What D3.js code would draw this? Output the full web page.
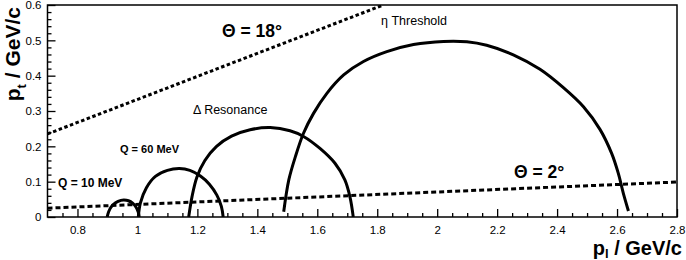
<!DOCTYPE html>
<html><head><meta charset="utf-8">
<script src="https://cdn.jsdelivr.net/npm/d3@7"></script>
<style>
body{margin:0;background:#fff}
svg{display:block}
text{font-family:"Liberation Sans",Arial,Helvetica,sans-serif;fill:#000}
</style>
</head><body>
<svg id="chart" width="686" height="260"></svg>
<script>
// ---- data ----
const xDomain = [0.7, 2.8];
const yDomain = [0, 0.6];
const xTickValues = [0.8, 1.0, 1.2, 1.4, 1.6, 1.8, 2.0, 2.2, 2.4, 2.6, 2.8];
const xTickLabels = ["0.8", "1", "1.2", "1.4", "1.6", "1.8", "2", "2.2", "2.4", "2.6", "2.8"];
const yTickValues = [0, 0.1, 0.2, 0.3, 0.4, 0.5, 0.6];
const yTickLabels = ["0", "0.1", "0.2", "0.3", "0.4", "0.5", "0.6"];

// curves: [p_l, p_t] in GeV/c
const q10MeV = [[0.899,0],[0.904,0.015],[0.912,0.028],[0.927,0.040],[0.945,0.047],[0.955,0.048],[0.970,0.046],[0.984,0.039],[0.996,0.027],[1.003,0.013],[1.006,0]];
const q60MeV = [[1.003,0],[1.010,0.040],[1.030,0.083],[1.060,0.115],[1.100,0.132],[1.140,0.137],[1.175,0.132],[1.210,0.116],[1.240,0.093],[1.265,0.062],[1.280,0.030],[1.286,0]];
const deltaRes = [[1.171,0],[1.182,0.057],[1.198,0.112],[1.225,0.160],[1.264,0.200],[1.314,0.229],[1.376,0.247],[1.443,0.253],[1.509,0.244],[1.554,0.228],[1.609,0.194],[1.659,0.152],[1.692,0.105],[1.709,0.057],[1.720,0]];
const etaThreshold = [[1.488,0.015],[1.505,0.105],[1.527,0.171],[1.554,0.237],[1.588,0.294],[1.632,0.350],[1.688,0.402],[1.754,0.440],[1.832,0.468],[1.921,0.488],[2.021,0.497],[2.099,0.496],[2.165,0.486],[2.254,0.459],[2.343,0.418],[2.421,0.366],[2.488,0.312],[2.543,0.248],[2.582,0.180],[2.604,0.124],[2.621,0.067],[2.638,0.017]];
const theta18 = [[0.7,0.235],[1.82,0.6]];
const theta2 = [[0.7,0.025],[2.8,0.099]];

// ---- layout ----
const svg = d3.select("#chart");
const mLeft = 47.5, mRight = 677, mTop = 5, mBottom = 217;
const x = d3.scaleLinear().domain(xDomain).range([mLeft, mRight]);
const y = d3.scaleLinear().domain(yDomain).range([mBottom, mTop]);

const line = d3.line().x(d => x(d[0])).y(d => y(d[1])).curve(d3.curveCatmullRom.alpha(0.5));
const straight = d3.line().x(d => x(d[0])).y(d => y(d[1]));

svg.append("clipPath").attr("id","clip").append("rect")
  .attr("x", mLeft).attr("y", mTop).attr("width", mRight-mLeft).attr("height", mBottom-mTop);

const plot = svg.append("g").attr("clip-path","url(#clip)");

plot.append("path").datum(theta18).attr("d", straight)
  .attr("fill","none").attr("stroke","#000").attr("stroke-width",3).attr("stroke-dasharray","3.5,2.5");
plot.append("path").datum(theta2).attr("d", straight)
  .attr("fill","none").attr("stroke","#000").attr("stroke-width",3).attr("stroke-dasharray","5,3");

[q10MeV, q60MeV, deltaRes, etaThreshold].forEach(c => {
  plot.append("path").datum(c).attr("d", line)
    .attr("fill","none").attr("stroke","#000").attr("stroke-width",3).attr("stroke-linecap","butt");
});

// ---- axes ----
const xMinor = d3.range(0.75, 2.8001, 0.05).filter(v => Math.abs(Math.round(v*5)-v*5) > 1e-6);
const yMinor = d3.range(0.02, 0.6001, 0.02).filter(v => Math.abs(Math.round(v*10)-v*10) > 1e-6);

svg.append("g").attr("transform", `translate(0,${mBottom})`)
  .call(d3.axisBottom(x).tickValues(xTickValues).tickSize(-8).tickPadding(9)
        .tickFormat((d,i) => xTickLabels[i]));
svg.append("g").attr("transform", `translate(0,${mBottom})`)
  .call(d3.axisBottom(x).tickValues(xMinor).tickSize(-4).tickFormat(""));
svg.append("g").attr("transform", `translate(${mLeft},0)`)
  .call(d3.axisLeft(y).tickValues(yTickValues).tickSize(-8).tickPadding(6)
        .tickFormat((d,i) => yTickLabels[i]));
svg.append("g").attr("transform", `translate(${mLeft},0)`)
  .call(d3.axisLeft(y).tickValues(yMinor).tickSize(-4).tickFormat(""));

svg.selectAll(".domain").remove();
svg.selectAll(".tick line").attr("stroke","#000").attr("stroke-width",1.3);
svg.selectAll(".tick text").style("font-size","11.5px").style("font-family","'Liberation Sans',Arial,sans-serif").attr("fill","#000");

svg.append("rect").attr("x", mLeft).attr("y", mTop).attr("width", mRight-mLeft).attr("height", mBottom-mTop)
  .attr("fill","none").attr("stroke","#000").attr("stroke-width",1.5);

// ---- titles ----
const xt = svg.append("text").attr("x", 682).attr("y", 255).attr("text-anchor","end")
  .style("font-size","20px").style("font-weight","bold");
xt.append("tspan").text("p");
xt.append("tspan").text("l").attr("dy", 3).style("font-size","13px");
xt.append("tspan").text(" / GeV/c").attr("dy", -3);

const yt = svg.append("text").attr("transform","translate(20,7) rotate(-90)").attr("text-anchor","end")
  .style("font-size","21px").style("font-weight","bold");
yt.append("tspan").text("p");
yt.append("tspan").text("t").attr("dy", 6).style("font-size","13px");
yt.append("tspan").text(" / GeV/c").attr("dy", -6);

// ---- annotations ----
function label(txt, px, py, size, weight) {
  svg.append("text").attr("x", px).attr("y", py).text(txt)
    .style("font-size", size + "px").style("font-weight", weight);
}
label("\u0398 = 18\u00B0", 222, 37, 17.5, "bold");
label("\u03B7 Threshold", 381, 25, 12.5, "normal");
label("\u0394 Resonance", 193, 114, 12.5, "normal");
label("Q = 60 MeV", 120, 153, 11, "bold");
label("Q = 10 MeV", 58, 187, 12, "bold");
label("\u0398 = 2\u00B0", 514, 178, 17.5, "bold");
</script>
</body></html>
